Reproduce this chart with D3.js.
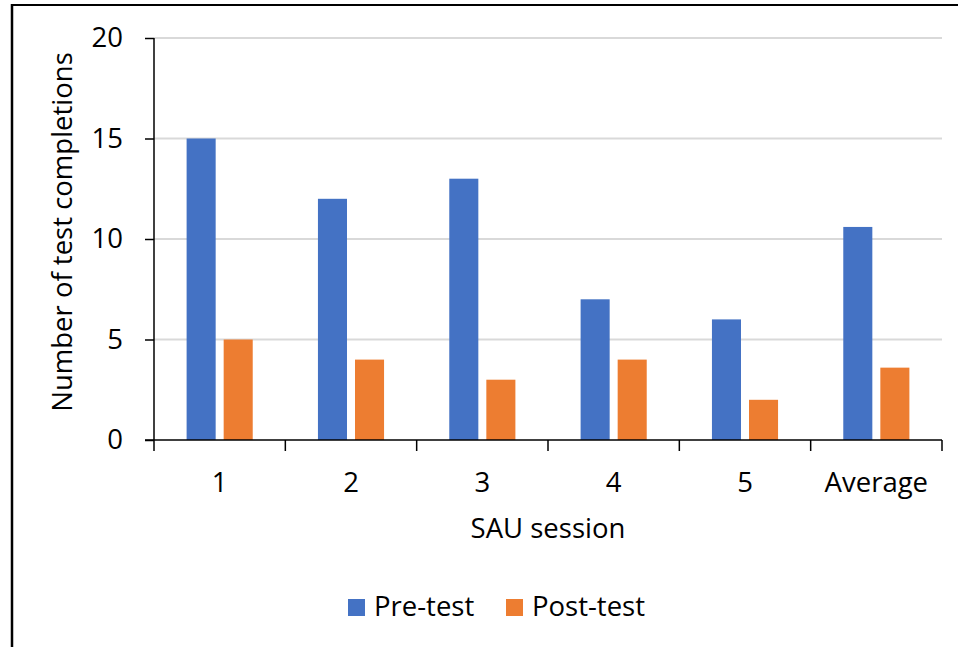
<!DOCTYPE html>
<html>
<head>
<meta charset="utf-8">
<script src="https://cdn.jsdelivr.net/npm/d3@7"></script>
<style>
  html, body { margin: 0; padding: 0; background: #fff; }
  svg text { font-family: "Open Sans", "Liberation Sans", sans-serif; fill: #000; }
</style>
</head>
<body>
<svg id="chart" width="958" height="647"></svg>
<script>
// Test completions per SAU session, before and after
const categories = ["1", "2", "3", "4", "5", "Average"];
const preTest = [15, 12, 13, 7, 6, 10.6];
const postTest = [5, 4, 3, 4, 2, 3.6];
const yTicks = [0, 5, 10, 15, 20];
const seriesNames = ["Pre-test", "Post-test"];
const seriesColors = ["#4472C4", "#ED7D31"];

const svg = d3.select("#chart");
const W = 958, H = 647;
const plot = { left: 154, right: 942, top: 38, bottom: 440 };
const FS = 27.5;

// outer frame (top and left edges visible)
svg.append("line").attr("x1", 12).attr("x2", W).attr("y1", 5).attr("y2", 5)
  .attr("stroke", "#000").attr("stroke-width", 2);
svg.append("line").attr("x1", 12).attr("x2", 12).attr("y1", 4).attr("y2", H)
  .attr("stroke", "#000").attr("stroke-width", 2.5);

const x0 = d3.scaleBand().domain(categories).range([plot.left, plot.right]).padding(0);
const x1 = d3.scaleBand().domain(seriesNames).range([0, x0.bandwidth()])
  .paddingInner(0.216).paddingOuter(0.88);
const y = d3.scaleLinear().domain([0, 20]).range([plot.bottom, plot.top]);

// gridlines
svg.append("g").selectAll("line").data(yTicks.filter(d => d > 0)).join("line")
  .attr("x1", plot.left).attr("x2", plot.right)
  .attr("y1", d => y(d)).attr("y2", d => y(d))
  .attr("stroke", "#d9d9d9").attr("stroke-width", 2);

// bars
const rows = categories.map((c, i) => ({ c, vals: [preTest[i], postTest[i]] }));
svg.append("g").selectAll("g").data(rows).join("g")
  .attr("transform", d => `translate(${x0(d.c)},0)`)
  .selectAll("rect").data(d => d.vals.map((v, k) => ({ v, k }))).join("rect")
  .attr("x", d => x1(seriesNames[d.k]))
  .attr("width", x1.bandwidth())
  .attr("y", d => y(d.v))
  .attr("height", d => y(0) - y(d.v))
  .attr("fill", d => seriesColors[d.k]);

// y axis
const yAxis = d3.axisLeft(y).tickValues(yTicks).tickSize(9).tickPadding(22);
const gy = svg.append("g").attr("transform", `translate(${plot.left},0)`).call(yAxis);
gy.select(".domain").attr("stroke", "#000").attr("stroke-width", 1.5)
  .attr("d", `M0,${plot.top}V${plot.bottom}`);
gy.selectAll(".tick line").attr("stroke", "#000").attr("stroke-width", 1.5);
gy.selectAll(".tick text").attr("font-size", FS).attr("font-family", "Open Sans").attr("fill", "#000");

// x axis: ticks at band boundaries, labels centred in bands
const gx = svg.append("g").attr("transform", `translate(0,${plot.bottom})`);
gx.append("line").attr("x1", plot.left - 9).attr("x2", plot.right)
  .attr("stroke", "#000").attr("stroke-width", 1.5);
const bounds = categories.map(c => x0(c)).concat([plot.right]);
gx.selectAll("line.tk").data(bounds).join("line").attr("class", "tk")
  .attr("x1", d => d).attr("x2", d => d).attr("y1", 0).attr("y2", 11)
  .attr("stroke", "#000").attr("stroke-width", 1.5);
gx.selectAll("text").data(categories).join("text")
  .attr("x", d => x0(d) + x0.bandwidth() / 2).attr("y", 52)
  .attr("text-anchor", "middle").attr("font-size", FS).text(d => d);

// axis titles
svg.append("text").attr("transform", "translate(72,232) rotate(-90)")
  .attr("text-anchor", "middle").attr("font-size", FS).text("Number of test completions");
svg.append("text").attr("x", (plot.left + plot.right) / 2).attr("y", 538)
  .attr("text-anchor", "middle").attr("font-size", FS).text("SAU session");

// legend
const legend = svg.append("g");
const legendX = [348, 506];
seriesNames.forEach((name, k) => {
  legend.append("rect").attr("x", legendX[k]).attr("y", 599).attr("width", 17).attr("height", 17)
    .attr("fill", seriesColors[k]);
  legend.append("text").attr("x", legendX[k] + 26).attr("y", 616)
    .attr("font-size", FS).text(name);
});
</script>
</body>
</html>
